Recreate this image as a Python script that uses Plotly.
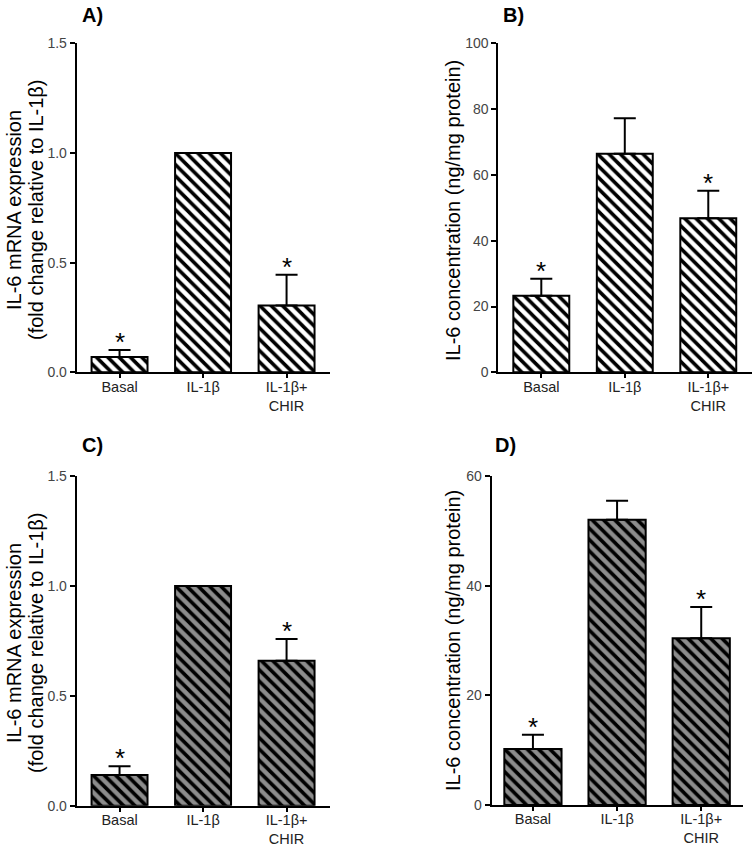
import plotly.graph_objects as go

categories = ["Basal", "IL-1β", "IL-1β+<br>CHIR"]

a_values = [0.07, 1.0, 0.305]
a_errors = [0.032, 0.0, 0.140]
a_sig = [True, False, True]

b_values = [23.3, 66.4, 46.8]
b_errors = [5.1, 10.8, 8.4]
b_sig = [True, False, True]

c_values = [0.14, 1.0, 0.66]
c_errors = [0.04, 0.0, 0.098]
c_sig = [True, False, True]

d_values = [10.2, 52.0, 30.4]
d_errors = [2.6, 3.5, 5.7]
d_sig = [True, False, True]

panel_labels = ["A)", "B)", "C)", "D)"]
y_ranges = [[0, 1.5], [0, 100], [0, 1.5], [0, 60]]
y_ticks = [[0.0, 0.5, 1.0, 1.5], [0, 20, 40, 60, 80, 100], [0.0, 0.5, 1.0, 1.5], [0, 20, 40, 60]]
y_ticktext = [["0.0", "0.5", "1.0", "1.5"], ["0", "20", "40", "60", "80", "100"],
              ["0.0", "0.5", "1.0", "1.5"], ["0", "20", "40", "60"]]
mrna_title = ["IL-6 mRNA expression", "(fold change relative to IL-1β)"]
conc_title = ["IL-6 concentration (ng/mg protein)"]
y_titles = [mrna_title, conc_title, mrna_title, conc_title]

W, H = 755, 848
FONT = "Liberation Sans, Arial, sans-serif"

# layout in pixels (left, right, top, bottom) of each plot area
boxes = [(76.7, 330.0, 43.3, 372.3),
         (498.3, 751.7, 43.3, 372.3),
         (76.7, 330.0, 476.0, 805.7),
         (491.7, 743.3, 476.0, 805.0)]
x_ranges = [[-0.513, 2.52], [-0.515, 2.52], [-0.513, 2.52], [-0.49, 2.50]]
bar_widths = [0.67, 0.67, 0.67, 0.68]
fills = ["white", "white", "#8c8c8c", "#8c8c8c"]
label_pos = [(80, 2), (501, 2), (80, 432), (493, 432)]
title_x = [[14, 36], [453], [14, 36], [453]]
title_y = [210, 211, 643, 641]

all_values = [a_values, b_values, c_values, d_values]
all_errors = [a_errors, b_errors, c_errors, d_errors]
all_sig = [a_sig, b_sig, c_sig, d_sig]

fig = go.Figure()
annotations = []
layout_axes = {}

for i in range(4):
    xa = "x" if i == 0 else f"x{i+1}"
    ya = "y" if i == 0 else f"y{i+1}"
    xkey = "xaxis" if i == 0 else f"xaxis{i+1}"
    ykey = "yaxis" if i == 0 else f"yaxis{i+1}"
    l, r, t, b = boxes[i]
    vals = all_values[i]
    errs = all_errors[i]
    fig.add_trace(go.Bar(
        x=[0, 1, 2], y=vals, width=bar_widths[i],
        xaxis=xa, yaxis=ya,
        marker=dict(color=fills[i],
                    line=dict(color="black", width=2),
                    pattern=dict(shape="\\", size=8, solidity=0.45,
                                 fgcolor="black", bgcolor=fills[i], fillmode="replace")),
        error_y=dict(type="data", array=errs, arrayminus=[0, 0, 0], symmetric=False,
                     color="black", thickness=2, width=11, visible=True),
        showlegend=False,
    ))
    layout_axes[xkey] = dict(
        domain=[l / W, r / W], range=x_ranges[i], anchor=ya,
        tickmode="array", tickvals=[0, 1, 2], ticktext=categories,
        ticks="outside", ticklen=4, tickwidth=1.5, tickcolor="black",
        ticklabelstandoff=-4,
        showline=True, linecolor="black", linewidth=2,
        showgrid=False, zeroline=False, fixedrange=True, automargin=False,
        tickfont=dict(family=FONT, size=14.5, color="#222"),
    )
    layout_axes[ykey] = dict(
        domain=[1 - b / H, 1 - t / H], range=y_ranges[i], anchor=xa,
        tickmode="array", tickvals=y_ticks[i], ticktext=y_ticktext[i],
        ticks="outside", ticklen=5, tickwidth=1.5, tickcolor="black",
        showline=True, linecolor="black", linewidth=2,
        showgrid=False, zeroline=False, fixedrange=True, automargin=False,
        tickfont=dict(family=FONT, size=14, color="#444"),
    )
    # significance stars
    for k in range(3):
        if all_sig[i][k]:
            annotations.append(dict(
                x=k, y=vals[k] + errs[k], xref=xa, yref=ya,
                text="*", showarrow=False, yanchor="bottom", xanchor="center",
                yshift=-9, font=dict(family=FONT, size=26, color="black")))
    # panel label
    lx, ly = label_pos[i]
    annotations.append(dict(
        x=lx / W, y=1 - ly / H, xref="paper", yref="paper",
        text=f"<b>{panel_labels[i]}</b>", showarrow=False,
        xanchor="left", yanchor="top",
        font=dict(family=FONT, size=20, color="black")))
    # y titles
    for j, line in enumerate(y_titles[i]):
        annotations.append(dict(
            x=title_x[i][j] / W, y=1 - title_y[i] / H, xref="paper", yref="paper",
            text=line, showarrow=False, textangle=-90,
            xanchor="center", yanchor="middle",
            font=dict(family=FONT, size=20, color="black")))

fig.update_layout(
    width=W, height=H,
    margin=dict(l=0, r=0, t=0, b=0, autoexpand=False),
    paper_bgcolor="white", plot_bgcolor="white",
    annotations=annotations,
    **layout_axes,
)

fig.write_html("out.html",
               config={"displayModeBar": False},
               post_script="document.body.style.margin='0';document.body.style.overflow='hidden';")
